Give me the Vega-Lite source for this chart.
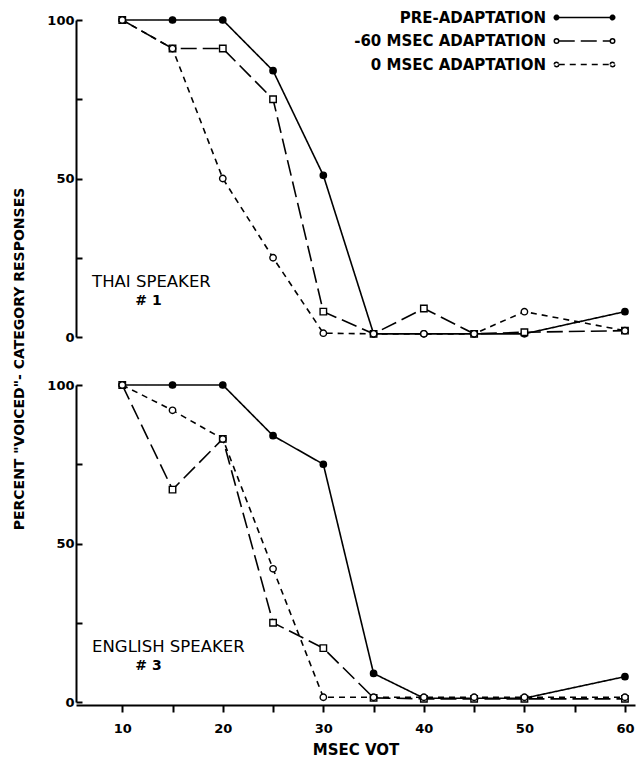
{
  "$schema": "https://vega.github.io/schema/vega-lite/v6.json",
  "padding": {"left": 12, "top": 10, "right": 1, "bottom": 0},
  "config": {
    "view": {"stroke": null},
    "font": "DejaVu Sans",
    "axis": {"domainColor": "black", "domainWidth": 2, "tickColor": "black", "tickWidth": 2, "labelColor": "black", "labelFont": "DejaVu Sans", "labelFontSize": 13, "labelFontWeight": "bold", "grid": false, "titleColor": "black", "titleFont": "DejaVu Sans", "titleFontSize": 15, "titleFontWeight": "bold"}
  },
  "data": {"values": [
    {"speaker": "THAI SPEAKER", "subject": "# 1", "series": "PRE-ADAPTATION", "vot": 10, "pct": 100},
    {"speaker": "THAI SPEAKER", "subject": "# 1", "series": "PRE-ADAPTATION", "vot": 15, "pct": 100},
    {"speaker": "THAI SPEAKER", "subject": "# 1", "series": "PRE-ADAPTATION", "vot": 20, "pct": 100},
    {"speaker": "THAI SPEAKER", "subject": "# 1", "series": "PRE-ADAPTATION", "vot": 25, "pct": 84},
    {"speaker": "THAI SPEAKER", "subject": "# 1", "series": "PRE-ADAPTATION", "vot": 30, "pct": 51},
    {"speaker": "THAI SPEAKER", "subject": "# 1", "series": "PRE-ADAPTATION", "vot": 35, "pct": 1},
    {"speaker": "THAI SPEAKER", "subject": "# 1", "series": "PRE-ADAPTATION", "vot": 40, "pct": 1},
    {"speaker": "THAI SPEAKER", "subject": "# 1", "series": "PRE-ADAPTATION", "vot": 45, "pct": 1},
    {"speaker": "THAI SPEAKER", "subject": "# 1", "series": "PRE-ADAPTATION", "vot": 50, "pct": 1},
    {"speaker": "THAI SPEAKER", "subject": "# 1", "series": "PRE-ADAPTATION", "vot": 60, "pct": 8},
    {"speaker": "THAI SPEAKER", "subject": "# 1", "series": "-60 MSEC ADAPTATION", "vot": 10, "pct": 100},
    {"speaker": "THAI SPEAKER", "subject": "# 1", "series": "-60 MSEC ADAPTATION", "vot": 15, "pct": 91},
    {"speaker": "THAI SPEAKER", "subject": "# 1", "series": "-60 MSEC ADAPTATION", "vot": 20, "pct": 91},
    {"speaker": "THAI SPEAKER", "subject": "# 1", "series": "-60 MSEC ADAPTATION", "vot": 25, "pct": 75},
    {"speaker": "THAI SPEAKER", "subject": "# 1", "series": "-60 MSEC ADAPTATION", "vot": 30, "pct": 8},
    {"speaker": "THAI SPEAKER", "subject": "# 1", "series": "-60 MSEC ADAPTATION", "vot": 35, "pct": 1},
    {"speaker": "THAI SPEAKER", "subject": "# 1", "series": "-60 MSEC ADAPTATION", "vot": 40, "pct": 9},
    {"speaker": "THAI SPEAKER", "subject": "# 1", "series": "-60 MSEC ADAPTATION", "vot": 45, "pct": 1},
    {"speaker": "THAI SPEAKER", "subject": "# 1", "series": "-60 MSEC ADAPTATION", "vot": 50, "pct": 1.5},
    {"speaker": "THAI SPEAKER", "subject": "# 1", "series": "-60 MSEC ADAPTATION", "vot": 60, "pct": 2},
    {"speaker": "THAI SPEAKER", "subject": "# 1", "series": "0 MSEC ADAPTATION", "vot": 10, "pct": 100},
    {"speaker": "THAI SPEAKER", "subject": "# 1", "series": "0 MSEC ADAPTATION", "vot": 15, "pct": 91},
    {"speaker": "THAI SPEAKER", "subject": "# 1", "series": "0 MSEC ADAPTATION", "vot": 20, "pct": 50},
    {"speaker": "THAI SPEAKER", "subject": "# 1", "series": "0 MSEC ADAPTATION", "vot": 25, "pct": 25},
    {"speaker": "THAI SPEAKER", "subject": "# 1", "series": "0 MSEC ADAPTATION", "vot": 30, "pct": 1.2},
    {"speaker": "THAI SPEAKER", "subject": "# 1", "series": "0 MSEC ADAPTATION", "vot": 35, "pct": 1},
    {"speaker": "THAI SPEAKER", "subject": "# 1", "series": "0 MSEC ADAPTATION", "vot": 40, "pct": 1},
    {"speaker": "THAI SPEAKER", "subject": "# 1", "series": "0 MSEC ADAPTATION", "vot": 45, "pct": 1},
    {"speaker": "THAI SPEAKER", "subject": "# 1", "series": "0 MSEC ADAPTATION", "vot": 50, "pct": 8},
    {"speaker": "THAI SPEAKER", "subject": "# 1", "series": "0 MSEC ADAPTATION", "vot": 60, "pct": 2},
    {"speaker": "ENGLISH SPEAKER", "subject": "# 3", "series": "PRE-ADAPTATION", "vot": 10, "pct": 100},
    {"speaker": "ENGLISH SPEAKER", "subject": "# 3", "series": "PRE-ADAPTATION", "vot": 15, "pct": 100},
    {"speaker": "ENGLISH SPEAKER", "subject": "# 3", "series": "PRE-ADAPTATION", "vot": 20, "pct": 100},
    {"speaker": "ENGLISH SPEAKER", "subject": "# 3", "series": "PRE-ADAPTATION", "vot": 25, "pct": 84},
    {"speaker": "ENGLISH SPEAKER", "subject": "# 3", "series": "PRE-ADAPTATION", "vot": 30, "pct": 75},
    {"speaker": "ENGLISH SPEAKER", "subject": "# 3", "series": "PRE-ADAPTATION", "vot": 35, "pct": 9},
    {"speaker": "ENGLISH SPEAKER", "subject": "# 3", "series": "PRE-ADAPTATION", "vot": 40, "pct": 1.2},
    {"speaker": "ENGLISH SPEAKER", "subject": "# 3", "series": "PRE-ADAPTATION", "vot": 45, "pct": 1.2},
    {"speaker": "ENGLISH SPEAKER", "subject": "# 3", "series": "PRE-ADAPTATION", "vot": 50, "pct": 1.2},
    {"speaker": "ENGLISH SPEAKER", "subject": "# 3", "series": "PRE-ADAPTATION", "vot": 60, "pct": 8},
    {"speaker": "ENGLISH SPEAKER", "subject": "# 3", "series": "-60 MSEC ADAPTATION", "vot": 10, "pct": 100},
    {"speaker": "ENGLISH SPEAKER", "subject": "# 3", "series": "-60 MSEC ADAPTATION", "vot": 15, "pct": 67},
    {"speaker": "ENGLISH SPEAKER", "subject": "# 3", "series": "-60 MSEC ADAPTATION", "vot": 20, "pct": 83},
    {"speaker": "ENGLISH SPEAKER", "subject": "# 3", "series": "-60 MSEC ADAPTATION", "vot": 25, "pct": 25},
    {"speaker": "ENGLISH SPEAKER", "subject": "# 3", "series": "-60 MSEC ADAPTATION", "vot": 30, "pct": 17},
    {"speaker": "ENGLISH SPEAKER", "subject": "# 3", "series": "-60 MSEC ADAPTATION", "vot": 35, "pct": 1.3},
    {"speaker": "ENGLISH SPEAKER", "subject": "# 3", "series": "-60 MSEC ADAPTATION", "vot": 40, "pct": 1},
    {"speaker": "ENGLISH SPEAKER", "subject": "# 3", "series": "-60 MSEC ADAPTATION", "vot": 45, "pct": 1},
    {"speaker": "ENGLISH SPEAKER", "subject": "# 3", "series": "-60 MSEC ADAPTATION", "vot": 50, "pct": 1},
    {"speaker": "ENGLISH SPEAKER", "subject": "# 3", "series": "-60 MSEC ADAPTATION", "vot": 60, "pct": 1},
    {"speaker": "ENGLISH SPEAKER", "subject": "# 3", "series": "0 MSEC ADAPTATION", "vot": 10, "pct": 100},
    {"speaker": "ENGLISH SPEAKER", "subject": "# 3", "series": "0 MSEC ADAPTATION", "vot": 15, "pct": 92},
    {"speaker": "ENGLISH SPEAKER", "subject": "# 3", "series": "0 MSEC ADAPTATION", "vot": 20, "pct": 83},
    {"speaker": "ENGLISH SPEAKER", "subject": "# 3", "series": "0 MSEC ADAPTATION", "vot": 25, "pct": 42},
    {"speaker": "ENGLISH SPEAKER", "subject": "# 3", "series": "0 MSEC ADAPTATION", "vot": 30, "pct": 1.5},
    {"speaker": "ENGLISH SPEAKER", "subject": "# 3", "series": "0 MSEC ADAPTATION", "vot": 35, "pct": 1.5},
    {"speaker": "ENGLISH SPEAKER", "subject": "# 3", "series": "0 MSEC ADAPTATION", "vot": 40, "pct": 1.5},
    {"speaker": "ENGLISH SPEAKER", "subject": "# 3", "series": "0 MSEC ADAPTATION", "vot": 45, "pct": 1.5},
    {"speaker": "ENGLISH SPEAKER", "subject": "# 3", "series": "0 MSEC ADAPTATION", "vot": 50, "pct": 1.5},
    {"speaker": "ENGLISH SPEAKER", "subject": "# 3", "series": "0 MSEC ADAPTATION", "vot": 60, "pct": 1.5}
  ]},
  "facet": {
    "row": {
      "field": "speaker", "type": "nominal",
      "sort": ["THAI SPEAKER", "ENGLISH SPEAKER"],
      "header": {"labels": false, "title": "PERCENT \"VOICED\"- CATEGORY RESPONSES", "titleFont": "DejaVu Sans", "titleFontSize": 14, "titleFontWeight": "bold", "titleColor": "black", "titlePadding": 9}
    }
  },
  "spacing": {"row": 38},
  "spec": {
    "width": 559,
    "height": 317,
    "layer": [
      {
        "mark": {"type": "line", "color": "black", "strokeWidth": 1.6},
        "encoding": {
          "x": {"field": "vot", "type": "quantitative", "scale": {"domain": [5.4, 61], "nice": false, "zero": false},
                "axis": {"title": "MSEC VOT", "values": [10, 15, 20, 25, 30, 35, 40, 45, 50, 55, 60], "labelExpr": "datum.value % 10 === 0 ? datum.label : ''", "tickSize": 7, "labelPadding": 10, "titlePadding": 7}},
          "y": {"field": "pct", "type": "quantitative", "scale": {"domain": [0, 100], "nice": false},
                "axis": {"title": null, "values": [0, 25, 50, 75, 100], "labelExpr": "datum.value % 50 === 0 ? datum.label : ''", "tickSize": -6, "labelPadding": 8}},
          "strokeDash": {"field": "series", "type": "nominal",
            "scale": {"domain": ["PRE-ADAPTATION", "-60 MSEC ADAPTATION", "0 MSEC ADAPTATION"], "range": [[1, 0], [16, 6], [6, 5]]},
            "legend": {
              "title": null, "orient": "none", "legendX": 501, "legendY": -10,
              "symbolType": "M-5.15,0L5.15,0M-6.05,0a0.45,0.45 0 0,1 0.9,0M-5.15,0a0.45,0.45 0 0,1 -0.9,0M5.15,0a0.45,0.45 0 0,1 0.9,0M6.05,0a0.45,0.45 0 0,1 -0.9,0",
              "symbolSize": 100, "symbolStrokeWidth": 1.5, "symbolStrokeColor": "black",
              "labelAlign": "right", "labelOffset": -46,
              "labelFont": "DejaVu Sans", "labelFontSize": 15, "labelFontWeight": "bold", "labelColor": "black", "labelLimit": 400,
              "rowPadding": 7.5
            }
          }
        }
      },
      {
        "mark": {"type": "point", "stroke": "black", "strokeWidth": 1.4, "opacity": 1},
        "encoding": {
          "x": {"field": "vot", "type": "quantitative"},
          "y": {"field": "pct", "type": "quantitative"},
          "shape": {"field": "series", "type": "nominal", "scale": {"range": ["square", "circle", "circle"]}, "legend": null},
          "size": {"field": "series", "type": "nominal", "scale": {"range": [42, 40, 64]}, "legend": null},
          "fill": {"field": "series", "type": "nominal",
            "scale": {"domain": ["PRE-ADAPTATION", "-60 MSEC ADAPTATION", "0 MSEC ADAPTATION"], "range": ["black", "white", "white"]},
            "legend": null}
        }
      },
      {
        "transform": [{"filter": "datum.vot === 10 && datum.series === 'PRE-ADAPTATION'"}],
        "mark": {"type": "text", "align": "left", "baseline": "middle", "font": "DejaVu Sans", "fontSize": 16.5, "color": "black"},
        "encoding": {
          "x": {"datum": 7.0, "type": "quantitative"},
          "y": {"datum": 17.5, "type": "quantitative"},
          "text": {"field": "speaker"}
        }
      },
      {
        "transform": [{"filter": "datum.vot === 10 && datum.series === 'PRE-ADAPTATION'"}],
        "mark": {"type": "text", "align": "left", "baseline": "middle", "font": "DejaVu Sans", "fontSize": 14, "fontWeight": "bold", "color": "black"},
        "encoding": {
          "x": {"datum": 11.3, "type": "quantitative"},
          "y": {"datum": 11.5, "type": "quantitative"},
          "text": {"field": "subject"}
        }
      }
    ]
  }
}
